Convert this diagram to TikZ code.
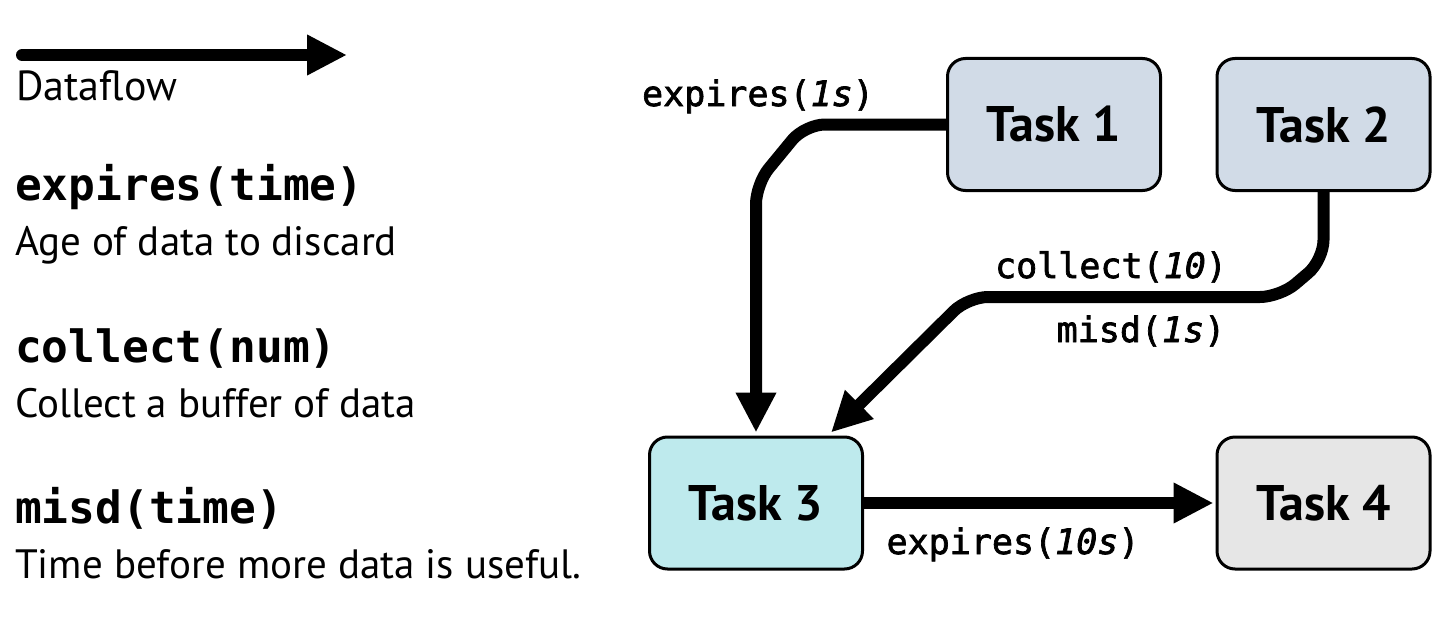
\documentclass[tikz,border=0pt]{standalone}
\usepackage{fontspec}
\setmainfont{PT Sans}
\setmonofont{DejaVu Sans Mono}
\newfontfamily\medmono{DejaVu Sans Mono}[FakeBold=2]
\usetikzlibrary{arrows.meta}
\definecolor{tblue}{HTML}{D1DBE7}
\definecolor{tcyan}{HTML}{BEEAED}
\definecolor{tgray}{HTML}{E6E6E6}
\tikzset{
  task/.style={draw=black, line width=3pt, rounded corners=18pt, minimum width=213pt, minimum height=132pt, inner sep=0pt, font=\fontsize{50}{56}\selectfont\bfseries},
  flow/.style={line width=12pt, rounded corners=20pt, -{Triangle[length=40pt,width=38pt]}},
  elabel/.style={anchor=base, inner sep=0pt, font=\fontsize{35}{40}\selectfont\medmono},
  lhead/.style={anchor=base west, inner sep=0pt, font=\fontsize{44.5}{50}\selectfont\ttfamily\bfseries},
  ltext/.style={anchor=base west, inner sep=0pt, font=\fontsize{41}{46}\selectfont},
}
\begin{document}
\begin{tikzpicture}[x=1pt,y=-1pt]
\useasboundingbox (0,0) rectangle (1440,626);
% tasks
\node[task, fill=tblue] (t1) at (1054,124.5) {Task 1};
\node[task, fill=tblue] (t2) at (1323.5,124.5) {Task 2};
\node[task, fill=tcyan] (t3) at (756,503) {Task 3};
\node[task, fill=tgray] (t4) at (1323.5,503) {Task 4};
% connectors
\draw[flow] (t1.west) -- (805,124.5) -- (756,184) -- ([yshift=3pt]t3.north);
\draw[flow] (t2.south) -- (1323.5,260) -- (1280,297) -- (968,297) -- ([xshift=75pt,yshift=3pt]t3.north);
\draw[flow] (t3.east) -- ([xshift=-2pt]t4.west);
% edge labels
\node[elabel] (lb1) at (758,106) {expires(\textit{1s})};
\node[elabel] (lb2) at (1111,278) {collect(\textit{10})};
\node[elabel] (lb3) at (1141,342) {misd(\textit{1s})};
\node[elabel] (lb4) at (1013,554) {expires(\textit{10s})};
% legend
\coordinate (la) at (22,55);
\coordinate (lz) at (347,55);
\draw[flow, line cap=round] (la) -- (lz);
\node[ltext, font=\fontsize{42}{46}\selectfont] (df) at (16,100) {Dataflow};
\node[lhead] (h1) at (15,200) {expires(time)};
\node[ltext] (d1) at (15,255) {Age of data to discard};
\node[lhead] (h2) at (15,362) {collect(num)};
\node[ltext] (d2) at (15,417) {Collect a buffer of data};
\node[lhead] (h3) at (15,523) {misd(time)};
\node[ltext] (d3) at (15,578) {Time before more data is useful.};
\end{tikzpicture}
\end{document}
